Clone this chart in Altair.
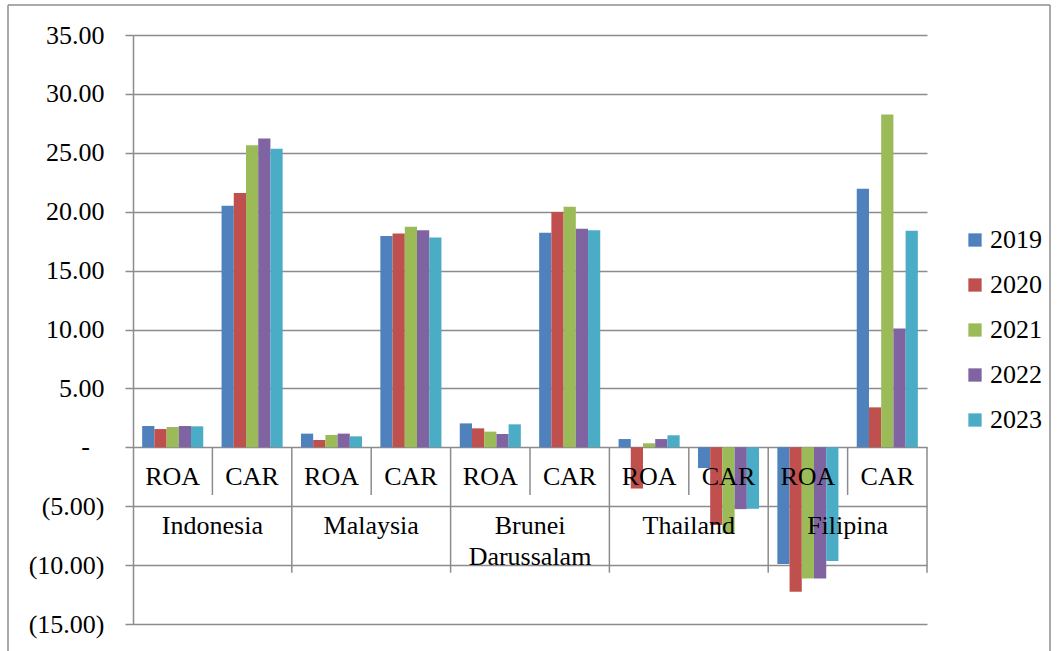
import altair as alt
import pandas as pd

countries = ["Indonesia", "Malaysia", "Brunei\nDarussalam", "Thailand", "Filipina"]
metrics = ["ROA", "CAR"]
years = ["2019", "2020", "2021", "2022", "2023"]
colors = ["#4F81BD", "#C0504D", "#9BBB59", "#8064A2", "#4BACC6"]

indonesia_roa = [1.81, 1.55, 1.72, 1.81, 1.78]
indonesia_car = [20.51, 21.58, 25.65, 26.21, 25.34]
malaysia_roa = [1.16, 0.62, 1.05, 1.16, 0.93]
malaysia_car = [17.94, 18.14, 18.73, 18.42, 17.82]
brunei_roa = [2.03, 1.61, 1.33, 1.13, 1.95]
brunei_car = [18.22, 19.97, 20.42, 18.56, 18.42]
thailand_roa = [0.70, -3.50, 0.34, 0.70, 1.02]
thailand_car = [-1.76, -6.60, -7.30, -5.25, -5.22]
filipina_roa = [-9.90, -12.26, -11.13, -11.13, -9.66]
filipina_car = [21.95, 3.39, 28.25, 10.08, 18.39]

y_ticks = [-15, -10, -5, 0, 5, 10, 15, 20, 25, 30, 35]
zero_label = ["-"]

series = {
    ("Indonesia", "ROA"): indonesia_roa,
    ("Indonesia", "CAR"): indonesia_car,
    ("Malaysia", "ROA"): malaysia_roa,
    ("Malaysia", "CAR"): malaysia_car,
    ("Brunei\nDarussalam", "ROA"): brunei_roa,
    ("Brunei\nDarussalam", "CAR"): brunei_car,
    ("Thailand", "ROA"): thailand_roa,
    ("Thailand", "CAR"): thailand_car,
    ("Filipina", "ROA"): filipina_roa,
    ("Filipina", "CAR"): filipina_car,
}

rows = []
for c in countries:
    for m in metrics:
        for yr, v in zip(years, series[(c, m)]):
            rows.append({"slot": f"{c}|{m}", "country": c, "metric": m, "year": yr, "value": v})
df = pd.DataFrame(rows)

slots = [f"{c}|{m}" for c in countries for m in metrics]
slot_df = pd.DataFrame([{"slot": f"{c}|{m}", "country": c, "metric": m, "ci": i}
                        for i, c in enumerate(countries) for m in metrics])

GRID = "#8c8c8c"
FONT = "'Liberation Serif', 'Times New Roman', Times, serif"
FS = 26

x_scale = alt.Scale(domain=slots, paddingInner=0, paddingOuter=0)
y_scale = alt.Scale(domain=[-15, 35], nice=False)

label_expr = ("datum.value == 0 ? '' : datum.value < 0 ? '(' + format(-datum.value, '.2f') + ')' "
              ": format(datum.value, '.2f')")

bars = alt.Chart(df).mark_bar().encode(
    x=alt.X("slot:N", scale=x_scale, axis=None, sort=slots),
    xOffset=alt.XOffset("year:N", scale=alt.Scale(domain=years, paddingInner=0, paddingOuter=0.75)),
    y=alt.Y("value:Q", scale=y_scale, axis=alt.Axis(
        values=y_ticks, labelExpr=label_expr, title=None, grid=True,
        gridColor=GRID, gridWidth=1.5, domainColor=GRID, domainWidth=1.5,
        tickColor=GRID, tickWidth=1.5, tickSize=8, labelFont=FONT, labelFontSize=FS,
        labelColor="black", labelPadding=21)),
    color=alt.Color("year:N", scale=alt.Scale(domain=years, range=colors), legend=alt.Legend(
        title=None, orient="none", legendX=829, legendY=192, symbolType="square",
        symbolSize=177, symbolStrokeWidth=0, labelFont=FONT, labelFontSize=FS,
        labelColor="black", rowPadding=19, labelOffset=2, padding=0)),
)

zero_text = alt.Chart(pd.DataFrame({"t": zero_label})).mark_text(
    font=FONT, fontSize=FS, baseline="middle", align="right", color="black"
).encode(x=alt.value(-43), y=alt.datum(0), text="t:N")

short_sep = alt.Chart(slot_df[slot_df.metric == "CAR"]).mark_rule(color=GRID, strokeWidth=1.5).encode(
    x=alt.X("slot:N", scale=x_scale, bandPosition=0, axis=None),
    y=alt.datum(0), y2=alt.datum(-4.05),
)
long_sep = alt.Chart(slot_df[(slot_df.metric == "ROA") & (slot_df.ci > 0)]).mark_rule(color=GRID, strokeWidth=1.5).encode(
    x=alt.X("slot:N", scale=x_scale, bandPosition=0, axis=None),
    y=alt.datum(0), y2=alt.datum(-10.64),
)
end_sep = alt.Chart(slot_df[(slot_df.metric == "CAR") & (slot_df.ci == 4)]).mark_rule(color=GRID, strokeWidth=1.5).encode(
    x=alt.X("slot:N", scale=x_scale, bandPosition=1, axis=None),
    y=alt.datum(0), y2=alt.datum(-10.64),
)

metric_text = alt.Chart(slot_df).mark_text(font=FONT, fontSize=FS, baseline="middle", color="black").encode(
    x=alt.X("slot:N", scale=x_scale, axis=None),
    y=alt.datum(-2.5),
    text="metric:N",
)
country_text = alt.Chart(slot_df[slot_df.metric == "CAR"]).mark_text(
    font=FONT, fontSize=FS, baseline="alphabetic", color="black", lineBreak="\n", lineHeight=31
).encode(
    x=alt.X("slot:N", scale=x_scale, bandPosition=0, axis=None),
    y=alt.datum(-7.4),
    text="country:N",
)

one = pd.DataFrame({"k": [0]})
frame_left = alt.Chart(one).mark_rule(color=GRID, strokeWidth=1.5).encode(
    x=alt.value(-125), y=alt.value(-30), y2=alt.value(616))
frame_top = alt.Chart(one).mark_rule(color=GRID, strokeWidth=1.5).encode(
    x=alt.value(-125), x2=alt.value(917), y=alt.value(-30))
frame_right = alt.Chart(one).mark_rule(color=GRID, strokeWidth=1.5).encode(
    x=alt.value(917), y=alt.value(-30), y2=alt.value(616))

chart = alt.layer(
    bars, zero_text, short_sep, long_sep, end_sep, metric_text, country_text,
    frame_left, frame_top, frame_right,
).properties(
    width=794, height=589,
    autosize=alt.AutoSizeParams(type="none"),
    padding={"left": 133, "top": 35, "right": 132, "bottom": 27},
    background="white",
).configure_view(stroke=None)

chart.save("out.html", embed_options={"renderer": "svg", "actions": False})
